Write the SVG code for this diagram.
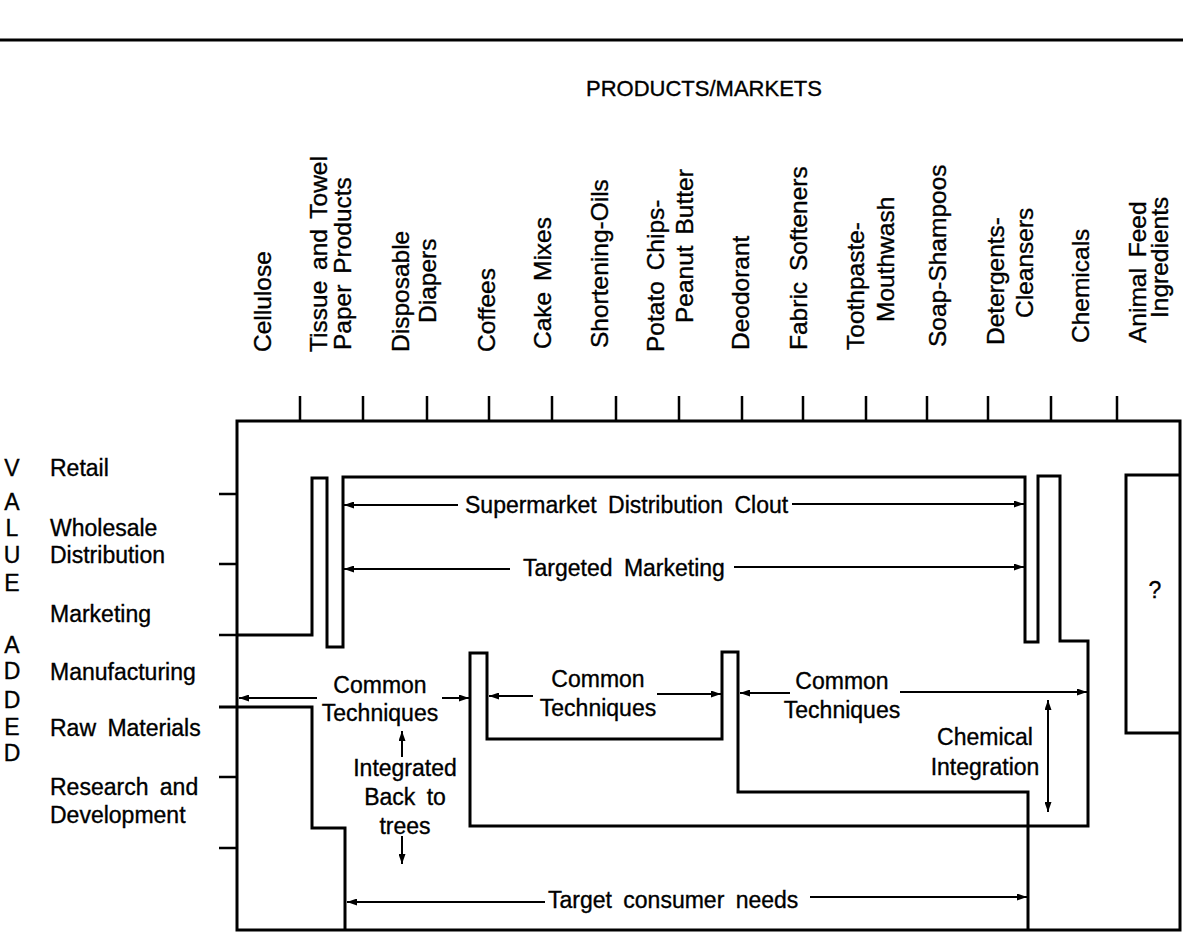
<svg xmlns="http://www.w3.org/2000/svg" width="1183" height="936" viewBox="0 0 1183 936">
<defs>
<style>
.t{font-family:"Liberation Sans",Arial,sans-serif;font-size:23px;fill:#000;stroke:#000;stroke-width:0.35;word-spacing:5px;dominant-baseline:central}
.v{font-family:"Liberation Sans",Arial,sans-serif;font-size:24.5px;fill:#000;stroke:#000;stroke-width:0.35;word-spacing:4px;dominant-baseline:central}
.m{text-anchor:middle}
.thick{fill:none;stroke:#000;stroke-width:3;stroke-linejoin:miter}
.tick{fill:none;stroke:#000;stroke-width:2.5}
.arr{fill:none;stroke:#000;stroke-width:2}
</style>
<marker id="ah" viewBox="0 0 10 7" refX="10" refY="3.5" markerWidth="11" markerHeight="7" markerUnits="userSpaceOnUse" orient="auto">
<path d="M0,0 L10,3.5 L0,7 z" fill="#000"/>
</marker>
</defs>
<rect x="0" y="0" width="1183" height="936" fill="#fff"/>
<line x1="0" y1="40" x2="1183" y2="40" stroke="#000" stroke-width="3"/>
<g id="title"><text class="t m" x="704" y="88" style="font-size:22px">PRODUCTS/MARKETS</text></g>

<g id="columns">
<g id="col-cellulose"><text class="v" transform="translate(262,352) rotate(-90)">Cellulose</text></g>
<g id="col-tissue"><text class="v" transform="translate(318,352) rotate(-90)">Tissue and Towel</text><text class="v" transform="translate(342,350) rotate(-90)">Paper Products</text></g>
<g id="col-diapers"><text class="v" transform="translate(400,352) rotate(-90)">Disposable</text><text class="v" transform="translate(427,323) rotate(-90)">Diapers</text></g>
<g id="col-coffees"><text class="v" transform="translate(486,352) rotate(-90)">Coffees</text></g>
<g id="col-cake"><text class="v" transform="translate(542,349) rotate(-90)">Cake Mixes</text></g>
<g id="col-shortening"><text class="v" transform="translate(599,348) rotate(-90)">Shortening-Oils</text></g>
<g id="col-potato"><text class="v" transform="translate(655,352) rotate(-90)">Potato Chips-</text><text class="v" transform="translate(684,323) rotate(-90)">Peanut Butter</text></g>
<g id="col-deodorant"><text class="v" transform="translate(740,350) rotate(-90)">Deodorant</text></g>
<g id="col-fabric"><text class="v" transform="translate(798,350) rotate(-90)">Fabric Softeners</text></g>
<g id="col-toothpaste"><text class="v" transform="translate(855,350) rotate(-90)">Toothpaste-</text><text class="v" transform="translate(885,322) rotate(-90)">Mouthwash</text></g>
<g id="col-soap"><text class="v" transform="translate(937,347) rotate(-90)">Soap-Shampoos</text></g>
<g id="col-detergents"><text class="v" transform="translate(995,345) rotate(-90)">Detergents-</text><text class="v" transform="translate(1024,318) rotate(-90)">Cleansers</text></g>
<g id="col-chemicals"><text class="v" transform="translate(1080,343) rotate(-90)">Chemicals</text></g>
<g id="col-animal"><text class="v" transform="translate(1137,343) rotate(-90)">Animal Feed</text><text class="v" transform="translate(1159,318) rotate(-90)">Ingredients</text></g>
</g>

<g id="rows">
<g id="value-added">
<text class="t m" x="12" y="468">V</text>
<text class="t m" x="12" y="502">A</text>
<text class="t m" x="12" y="528">L</text>
<text class="t m" x="12" y="555">U</text>
<text class="t m" x="12" y="583">E</text>
<text class="t m" x="12" y="645">A</text>
<text class="t m" x="12" y="671">D</text>
<text class="t m" x="12" y="700">D</text>
<text class="t m" x="12" y="727">E</text>
<text class="t m" x="12" y="753">D</text>
</g>
<g id="row-retail"><text class="t" x="50" y="468">Retail</text></g>
<g id="row-wholesale"><text class="t" x="50" y="528">Wholesale</text><text class="t" x="50" y="555">Distribution</text></g>
<g id="row-marketing"><text class="t" x="50" y="614">Marketing</text></g>
<g id="row-manufacturing"><text class="t" x="50" y="672">Manufacturing</text></g>
<g id="row-raw"><text class="t" x="50" y="728">Raw Materials</text></g>
<g id="row-rd"><text class="t" x="50" y="787">Research and</text><text class="t" x="50" y="815">Development</text></g>
</g>

<g id="frame">
<rect class="thick" x="237" y="421" width="943" height="509"/>
<path class="tick" d="M300,396V421 M363,396V421 M427,396V421 M489,396V421 M552,396V421 M616,396V421 M679,396V421 M742,396V421 M803,396V421 M866,396V421 M927,396V421 M988,396V421 M1051,396V421 M1117,396V421"/>
<path class="tick" d="M219,494H237 M219,564H237 M219,635H237 M219,777H237 M219,848H237"/>
</g>

<g id="structure">
<path class="thick" d="M237,635 H312 V478 H327 V647 H343 V477 H1025 V642 H1038 V476 H1060 V641 H1088 V826 H470 V653 H487 V739 H722 V652 H738 V792 H1028 V930"/>
<path class="thick" d="M219,707 H312 V828 H345 V930"/>
<path class="thick" d="M1180,475 H1126 V733 H1180"/>
<g id="unknown"><text class="t m" x="1155" y="590">?</text></g>
</g>

<g id="connectors">
<line class="arr" x1="458" y1="505" x2="344" y2="505" marker-end="url(#ah)"/>
<line class="arr" x1="792" y1="504" x2="1024" y2="504" marker-end="url(#ah)"/>
<line class="arr" x1="510" y1="569" x2="344" y2="569" marker-end="url(#ah)"/>
<line class="arr" x1="734" y1="567" x2="1024" y2="567" marker-end="url(#ah)"/>
<line class="arr" x1="317" y1="698" x2="239" y2="698" marker-end="url(#ah)"/>
<line class="arr" x1="442" y1="698" x2="469" y2="698" marker-end="url(#ah)"/>
<line class="arr" x1="533" y1="696" x2="489" y2="696" marker-end="url(#ah)"/>
<line class="arr" x1="657" y1="694" x2="721" y2="694" marker-end="url(#ah)"/>
<line class="arr" x1="790" y1="693" x2="740" y2="693" marker-end="url(#ah)"/>
<line class="arr" x1="900" y1="692" x2="1087" y2="692" marker-end="url(#ah)"/>
<line class="arr" x1="402" y1="757" x2="402" y2="731" marker-end="url(#ah)"/>
<line class="arr" x1="402" y1="836" x2="402" y2="864" marker-end="url(#ah)"/>
<line class="arr" x1="1048" y1="756" x2="1048" y2="700" marker-end="url(#ah)"/>
<line class="arr" x1="1048" y1="756" x2="1048" y2="812" marker-end="url(#ah)"/>
<line class="arr" x1="545" y1="902" x2="347" y2="902" marker-end="url(#ah)"/>
<line class="arr" x1="810" y1="897" x2="1027" y2="897" marker-end="url(#ah)"/>
</g>

<g id="labels">
<g id="lbl-supermarket"><text class="t" x="465" y="505">Supermarket Distribution Clout</text></g>
<g id="lbl-targeted"><text class="t" x="523" y="568">Targeted Marketing</text></g>
<g id="lbl-common1"><text class="t m" x="380" y="685">Common</text><text class="t m" x="380" y="713">Techniques</text></g>
<g id="lbl-common2"><text class="t m" x="598" y="679">Common</text><text class="t m" x="598" y="708">Techniques</text></g>
<g id="lbl-common3"><text class="t m" x="842" y="681">Common</text><text class="t m" x="842" y="710">Techniques</text></g>
<g id="lbl-integrated"><text class="t m" x="405" y="768">Integrated</text><text class="t m" x="405" y="797">Back to</text><text class="t m" x="405" y="826">trees</text></g>
<g id="lbl-chemical"><text class="t m" x="985" y="737">Chemical</text><text class="t m" x="985" y="767">Integration</text></g>
<g id="lbl-target"><text class="t" x="548" y="900">Target consumer needs</text></g>
</g>
</svg>
